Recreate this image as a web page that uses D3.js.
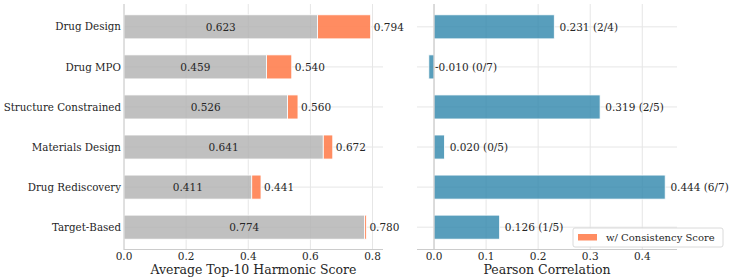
<!DOCTYPE html>
<html>
<head>
<meta charset="utf-8">
<script src="https://cdn.jsdelivr.net/npm/d3@7"></script>
<style>
  body { margin: 0; background: #fff; }
  svg { font-family: "DejaVu Serif", serif; }
</style>
</head>
<body>
<svg width="731" height="280"></svg>
<script>
// data
var tasks = ["Drug Design", "Drug MPO", "Structure Constrained", "Materials Design", "Drug Rediscovery", "Target-Based"];
var baseScore = [0.623, 0.459, 0.526, 0.641, 0.411, 0.774];
var withConsistency = [0.794, 0.540, 0.560, 0.672, 0.441, 0.780];
var pearson = [0.231, -0.010, 0.319, 0.020, 0.444, 0.126];
var pearsonCounts = ["2/4", "0/7", "2/5", "0/5", "6/7", "1/5"];
var leftTicks = [0.0, 0.2, 0.4, 0.6, 0.8];
var rightTicks = [0.0, 0.1, 0.2, 0.3, 0.4];

var svg = d3.select("svg");
var plotTop = 4, plotBottom = 250;

var y = d3.scaleBand()
  .domain(tasks)
  .range([plotTop, plotBottom])
  .paddingInner(0.4)
  .paddingOuter(0.27);

var gridColor = "#e6e6e6", spineColor = "#cccccc";

// left panel
var xL = d3.scaleLinear().domain([0, 0.8337]).range([124, 383]);
var gl = svg.append("g");

// grid
gl.selectAll(".vg").data(leftTicks).enter().append("line")
  .attr("x1", d => xL(d)).attr("x2", d => xL(d))
  .attr("y1", plotTop).attr("y2", plotBottom)
  .attr("stroke", gridColor);
gl.selectAll(".hg").data(tasks).enter().append("line")
  .attr("x1", xL.range()[0]).attr("x2", xL.range()[1])
  .attr("y1", d => y(d) + y.bandwidth() / 2).attr("y2", d => y(d) + y.bandwidth() / 2)
  .attr("stroke", gridColor);

// bars: orange increment then gray base
gl.selectAll(".ob").data(tasks).enter().append("rect")
  .attr("x", (d, i) => xL(baseScore[i]))
  .attr("y", d => y(d))
  .attr("width", (d, i) => xL(withConsistency[i]) - xL(baseScore[i]))
  .attr("height", y.bandwidth())
  .attr("fill", "#ff7f50").attr("fill-opacity", 0.9)
  .attr("stroke", "#fff").attr("stroke-width", 0.8);
gl.selectAll(".gb").data(tasks).enter().append("rect")
  .attr("x", xL(0))
  .attr("y", d => y(d))
  .attr("width", (d, i) => xL(baseScore[i]) - xL(0))
  .attr("height", y.bandwidth())
  .attr("fill", "#b0b0b0").attr("fill-opacity", 0.8)
  .attr("stroke", "#fff").attr("stroke-width", 0.8);

// labels
gl.selectAll(".bl").data(tasks).enter().append("text")
  .attr("x", (d, i) => (xL(0) + xL(baseScore[i])) / 2)
  .attr("y", d => y(d) + y.bandwidth() / 2)
  .attr("dy", "0.35em").attr("text-anchor", "middle")
  .attr("font-size", "10.5px").attr("fill", "#262626")
  .text((d, i) => baseScore[i].toFixed(3));
gl.selectAll(".tl").data(tasks).enter().append("text")
  .attr("x", (d, i) => xL(withConsistency[i] + 0.01))
  .attr("y", d => y(d) + y.bandwidth() / 2)
  .attr("dy", "0.35em")
  .attr("font-size", "10.5px").attr("fill", "#262626")
  .text((d, i) => withConsistency[i].toFixed(3));

// spines
gl.append("line").attr("x1", xL(0)).attr("x2", xL(0)).attr("y1", plotTop).attr("y2", plotBottom).attr("stroke", spineColor);
gl.append("line").attr("x1", xL.range()[0]).attr("x2", xL.range()[1]).attr("y1", plotBottom - 0.5).attr("y2", plotBottom - 0.5).attr("stroke", spineColor);

// axes text
gl.selectAll(".yt").data(tasks).enter().append("text")
  .attr("x", 121).attr("y", d => y(d) + y.bandwidth() / 2)
  .attr("dy", "0.35em").attr("text-anchor", "end")
  .attr("font-size", "10.3px").attr("fill", "#262626")
  .text(d => d);
gl.selectAll(".xt").data(leftTicks).enter().append("text")
  .attr("x", d => xL(d)).attr("y", 256).attr("dy", "0.35em")
  .attr("text-anchor", "middle").attr("font-size", "10.5px").attr("fill", "#262626")
  .text(d => d.toFixed(1));
gl.append("text").attr("x", (xL.range()[0] + xL.range()[1]) / 2).attr("y", 274)
  .attr("text-anchor", "middle").attr("font-size", "12.5px").attr("fill", "#262626")
  .text("Average Top-10 Harmonic Score");

// right panel
var xR = d3.scaleLinear().domain([-0.0327, 0.4667]).range([417, 677]);
var gr = svg.append("g");

gr.selectAll(".vg").data(rightTicks).enter().append("line")
  .attr("x1", d => xR(d)).attr("x2", d => xR(d))
  .attr("y1", plotTop).attr("y2", plotBottom)
  .attr("stroke", gridColor);
gr.selectAll(".hg").data(tasks).enter().append("line")
  .attr("x1", xR.range()[0]).attr("x2", xR.range()[1])
  .attr("y1", d => y(d) + y.bandwidth() / 2).attr("y2", d => y(d) + y.bandwidth() / 2)
  .attr("stroke", gridColor);

gr.selectAll(".pb").data(tasks).enter().append("rect")
  .attr("x", (d, i) => xR(Math.min(0, pearson[i])))
  .attr("y", d => y(d))
  .attr("width", (d, i) => Math.abs(xR(pearson[i]) - xR(0)))
  .attr("height", y.bandwidth())
  .attr("fill", "#2e86ab").attr("fill-opacity", 0.8)
  .attr("stroke", "#fff").attr("stroke-width", 0.8);

// zero line
gr.append("line").attr("x1", xR(0)).attr("x2", xR(0)).attr("y1", plotTop).attr("y2", plotBottom).attr("stroke", "#c4c4c4");
gr.append("line").attr("x1", xR.range()[0]).attr("x2", xR.range()[1]).attr("y1", plotBottom - 0.5).attr("y2", plotBottom - 0.5).attr("stroke", spineColor);

gr.selectAll(".pl").data(tasks).enter().append("text")
  .attr("x", (d, i) => pearson[i] < 0 ? xR(0) + 1 : xR(pearson[i] + 0.01))
  .attr("y", d => y(d) + y.bandwidth() / 2)
  .attr("dy", "0.35em")
  .attr("font-size", "10.5px").attr("fill", "#262626")
  .text((d, i) => pearson[i].toFixed(3) + " (" + pearsonCounts[i] + ")");

gr.selectAll(".xt").data(rightTicks).enter().append("text")
  .attr("x", d => xR(d)).attr("y", 256).attr("dy", "0.35em")
  .attr("text-anchor", "middle").attr("font-size", "10.5px").attr("fill", "#262626")
  .text(d => d.toFixed(1));
gr.append("text").attr("x", (xR.range()[0] + xR.range()[1]) / 2).attr("y", 274)
  .attr("text-anchor", "middle").attr("font-size", "12.5px").attr("fill", "#262626")
  .text("Pearson Correlation");

// legend
var lg = svg.append("g").attr("transform", "translate(573,228)");
lg.append("rect").attr("width", 150).attr("height", 19).attr("rx", 2)
  .attr("fill", "#fff").attr("fill-opacity", 0.9).attr("stroke", "#d0d0d0").attr("stroke-width", 0.8);
lg.append("rect").attr("x", 5).attr("y", 6).attr("width", 19).attr("height", 6.5)
  .attr("fill", "#ff7f50").attr("fill-opacity", 0.9);
lg.append("text").attr("x", 33).attr("y", 9.5).attr("dy", "0.35em")
  .attr("font-size", "10px").attr("fill", "#262626")
  .text("w/ Consistency Score");
</script>
</body>
</html>
